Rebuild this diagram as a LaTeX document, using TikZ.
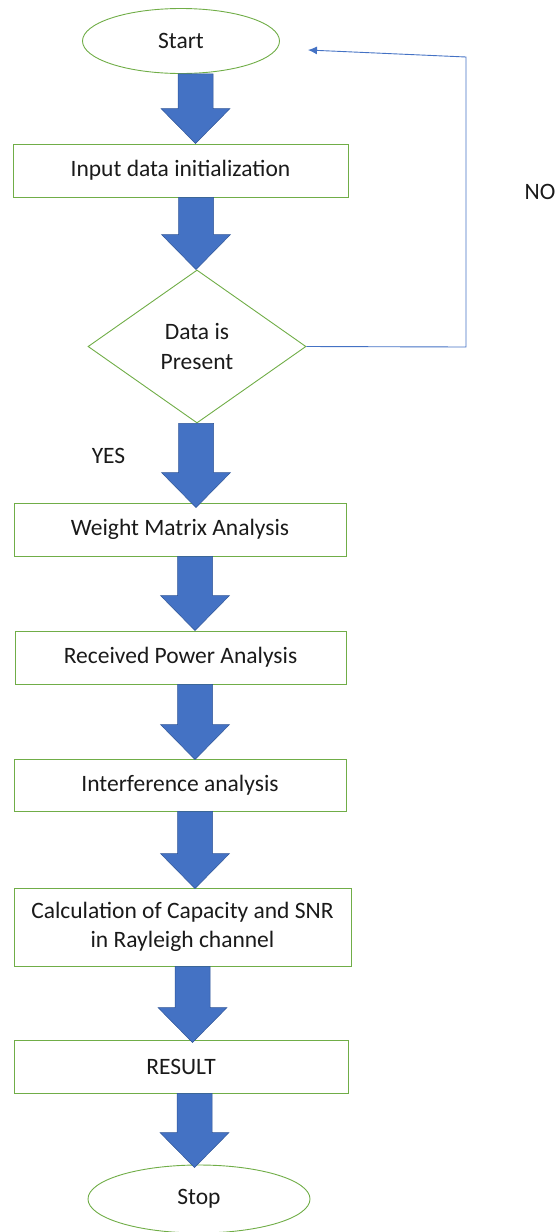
\documentclass[tikz,border=0pt]{standalone}
\usepackage{fontspec}
\setmainfont{Carlito}
\usetikzlibrary{shapes.geometric,arrows.meta,calc}
\definecolor{boxgreen}{HTML}{70AD47}
\definecolor{arrblue}{HTML}{4472C4}
\definecolor{arrdark}{HTML}{2F5597}
\definecolor{txt}{HTML}{1A1A1A}
\tikzset{
  base/.style={draw=boxgreen, line width=0.9pt, text=txt, inner sep=0pt,
    font=\fontsize{23.5}{29.5}\selectfont, align=center},
  term/.style={base, ellipse},
  procbox/.style={base, rectangle},
  decide/.style={base, diamond},
  lbl/.style={text=txt, font=\fontsize{23.5}{28}\selectfont, inner sep=0pt},
  feedback/.style={draw=arrblue, line width=0.9pt, -{Latex[length=9pt,width=8pt]}},
}
% block arrow: #1 = axis x (pt), #2 = start point, #3 = tip point
\newcommand\blockarr[3]{%
  \filldraw[fill=arrblue, draw=arrdark, line width=0.5pt]
    let \p1=(#2), \p2=(#3) in
    (#1pt-17.5pt,\y1) -- (#1pt+17.5pt,\y1) -- (#1pt+17.5pt,\y2+35pt)
    -- (#1pt+34.5pt,\y2+35pt) -- (#1pt,\y2) -- (#1pt-34.5pt,\y2+35pt)
    -- (#1pt-17.5pt,\y2+35pt) -- cycle;}
\begin{document}
\begin{tikzpicture}[x=1pt,y=-1pt]
\useasboundingbox (0,0) rectangle (555,1232);

\node[term, minimum width=197, minimum height=65] (start) at (181,41) {Start};
\node[procbox, minimum width=335, minimum height=53] (input) at (180.5,170.5) {Input data initialization};
\node[decide, minimum width=218, minimum height=153, aspect=1.425] (data) at (197,346.5) {Data is\\Present};
\node[procbox, minimum width=332, minimum height=53] (weight) at (180,529.5) {Weight Matrix Analysis};
\node[procbox, minimum width=331, minimum height=53] (power) at (180.5,657.5) {Received Power Analysis};
\node[procbox, minimum width=332, minimum height=52] (interf) at (180,785) {Interference analysis};
\node[procbox, minimum width=337, minimum height=78] (calc) at (182.5,927) {Calculation of Capacity and SNR\\in Rayleigh channel};
\node[procbox, minimum width=334, minimum height=53] (result) at (181,1066.5) {RESULT};
\node[term, minimum width=222, minimum height=68] (stop) at (199,1199) {Stop};

\node[lbl] (no) at (540,192) {NO};
\node[lbl] (yes) at (108.5,456) {YES};

\blockarr{195.5}{start.south}{input.north}
\blockarr{196}{input.south}{data.north}
\blockarr{196}{data.south}{[yshift=-5pt]weight.north}
\blockarr{195}{weight.south}{power.north}
\blockarr{195}{power.south}{[yshift=-1pt]interf.north}
\blockarr{195}{interf.south}{[yshift=-1pt]calc.north}
\blockarr{192.5}{calc.south}{[yshift=-3pt]result.north}
\blockarr{194.5}{result.south}{[yshift=-3pt]stop.north}

\coordinate (corner1) at (466,347);
\coordinate (corner2) at (466,57);
\coordinate (backtip) at (308,50);
\draw[feedback] (data.east) -- (corner1) -- (corner2) -- (backtip);
\end{tikzpicture}
\end{document}
